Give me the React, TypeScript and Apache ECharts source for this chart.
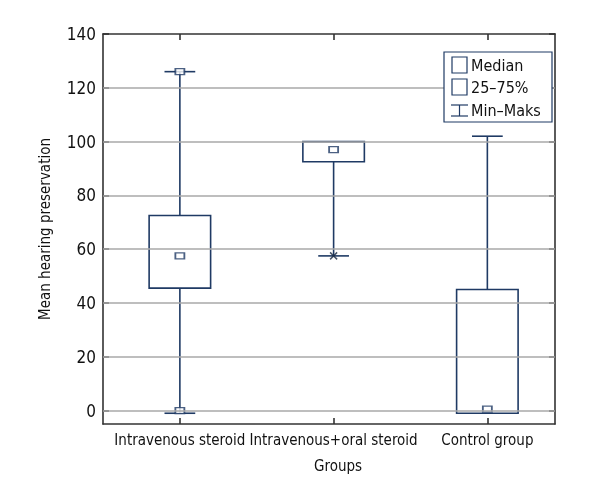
import React, { useEffect, useRef } from "react";
import * as echarts from "echarts";

const groups = ["Intravenous steroid", "Intravenous+oral steroid", "Control group"];
const groupPos = [1, 2, 3];
const mins = [-1, 57.5, -1];
const q1s = [45.5, 92.5, -1];
const q3s = [72.5, 100, 45];
const maxs = [126, 100, 102];
const medians = [57.5, 97, 0.5];
const extraSquares = [
  [1, 126],
  [1, 0],
];
const crossMarks = [[2, 57.5]];
const yTicks = [0, 20, 40, 60, 80, 100, 120, 140];
const gridValues = [0, 20, 40, 60, 80, 100, 120];
const legendItems = ["Median", "25\u201375%", "Min\u2013Maks"];

const NAVY = "#1f3a64";
const FRAME = "#333333";
const FONT = "'DejaVu Sans Condensed', 'Liberation Sans Narrow', sans-serif";

export default function App() {
  const ref = useRef<HTMLDivElement>(null);
  useEffect(() => {
    const chart = echarts.init(ref.current!, null, { renderer: "svg" });
    const boxData = groupPos.map((x, i) => [x, mins[i], q1s[i], q3s[i], maxs[i]]);
    const medianData = groupPos.map((x, i) => [x, medians[i]]);
    const boxW = 0.4;
    const capW = 0.2;

    const frameAxisCommon = {
      axisLine: { show: true, onZero: false, lineStyle: { color: FRAME, width: 1.6 } },
      axisTick: { show: true, inside: true, length: 6, lineStyle: { color: FRAME, width: 1.6 } },
      splitLine: { show: false },
    };

    chart.setOption({
      animation: false,
      grid: { left: 103, top: 34, right: 45, bottom: 76 },
      xAxis: [
        {
          type: "value",
          position: "bottom",
          min: 0.5,
          max: 3.44,
          ...frameAxisCommon,
          axisTick: { ...frameAxisCommon.axisTick, customValues: groupPos },
          axisLabel: {
            customValues: groupPos,
            formatter: (v: number) => groups[Math.round(v) - 1] ?? "",
            color: "#111",
            fontFamily: FONT,
            fontSize: 15,
            margin: 8,
            hideOverlap: false,
            showMinLabel: true,
            showMaxLabel: true,
          },
          name: "Groups",
          nameLocation: "middle",
          nameGap: 34,
          nameTextStyle: { color: "#111", fontFamily: FONT, fontSize: 15, padding: [0, 0, 0, 18] },
        },
        {
          type: "value",
          position: "top",
          min: 0.5,
          max: 3.44,
          ...frameAxisCommon,
          axisTick: { ...frameAxisCommon.axisTick, customValues: groupPos },
          axisLabel: { show: false },
        },
      ],
      yAxis: [
        {
          type: "value",
          position: "left",
          min: -5,
          max: 140,
          ...frameAxisCommon,
          axisTick: { ...frameAxisCommon.axisTick, customValues: yTicks },
          axisLabel: {
            customValues: yTicks,
            color: "#111",
            fontFamily: FONT,
            fontSize: 17,
            margin: 7,
            showMinLabel: true,
            showMaxLabel: true,
          },
          name: "Mean hearing preservation",
          nameLocation: "middle",
          nameRotate: 90,
          nameGap: 51,
          nameTextStyle: { color: "#111", fontFamily: FONT, fontSize: 15 },
        },
        {
          type: "value",
          position: "right",
          min: -5,
          max: 140,
          ...frameAxisCommon,
          axisTick: { ...frameAxisCommon.axisTick, customValues: yTicks },
          axisLabel: { show: false },
        },
      ],
      series: [
        {
          type: "line",
          data: [],
          z: 1,
          markLine: {
            silent: true,
            symbol: "none",
            label: { show: false },
            lineStyle: { color: "#a8a8a8", width: 1.5, type: "solid" },
            data: gridValues.map((v) => ({ yAxis: v })),
          },
        },
        {
          type: "custom",
          z: 3,
          data: boxData,
          renderItem: (params: any, api: any) => {
            const x = api.value(0);
            const lo = api.value(1);
            const b1 = api.value(2);
            const b3 = api.value(3);
            const hi = api.value(4);
            const pLo = api.coord([x, lo]);
            const pB1 = api.coord([x, b1]);
            const pB3 = api.coord([x, b3]);
            const pHi = api.coord([x, hi]);
            const bw = api.size([boxW, 0])[0];
            const cw = api.size([capW, 0])[0];
            const cx = pB1[0];
            const st = { stroke: NAVY, lineWidth: 1.6, fill: "none" };
            const children: any[] = [];
            if (hi > b3) {
              children.push({ type: "line", shape: { x1: cx, y1: pB3[1], x2: cx, y2: pHi[1] }, style: st });
              children.push({ type: "line", shape: { x1: cx - cw / 2, y1: pHi[1], x2: cx + cw / 2, y2: pHi[1] }, style: st });
            }
            if (lo < b1) {
              children.push({ type: "line", shape: { x1: cx, y1: pB1[1], x2: cx, y2: pLo[1] }, style: st });
              children.push({ type: "line", shape: { x1: cx - cw / 2, y1: pLo[1], x2: cx + cw / 2, y2: pLo[1] }, style: st });
            }
            children.push({
              type: "rect",
              shape: { x: cx - bw / 2, y: pB3[1], width: bw, height: pB1[1] - pB3[1] },
              style: { stroke: NAVY, lineWidth: 1.6, fill: "#ffffff" },
            });
            return { type: "group", children };
          },
        },
        {
          type: "scatter",
          z: 4,
          data: [...medianData, ...extraSquares],
          symbol: "rect",
          symbolSize: [9, 6],
          itemStyle: { color: "#ffffff", borderColor: NAVY, borderWidth: 1.5 },
        },
        {
          type: "scatter",
          z: 4,
          data: crossMarks,
          symbol: "path://M0,0L10,10M10,0L0,10",
          symbolSize: 7,
          itemStyle: { color: "none", borderColor: "#1a2a44", borderWidth: 1.5 },
        },
      ],
      graphic: [
        {
          type: "rect",
          shape: { x: 444, y: 52, width: 108, height: 70 },
          style: { fill: "#ffffff", stroke: NAVY, lineWidth: 1.2 },
          z: 10,
        },
        {
          type: "rect",
          shape: { x: 452, y: 57, width: 15, height: 16 },
          style: { fill: "none", stroke: NAVY, lineWidth: 1.2 },
          z: 11,
        },
        {
          type: "rect",
          shape: { x: 452, y: 79, width: 15, height: 16 },
          style: { fill: "none", stroke: NAVY, lineWidth: 1.2 },
          z: 11,
        },
        { type: "line", shape: { x1: 451, y1: 105, x2: 468, y2: 105 }, style: { stroke: NAVY, lineWidth: 1.2 }, z: 11 },
        { type: "line", shape: { x1: 459.5, y1: 105, x2: 459.5, y2: 116 }, style: { stroke: NAVY, lineWidth: 1.2 }, z: 11 },
        { type: "line", shape: { x1: 451, y1: 116, x2: 468, y2: 116 }, style: { stroke: NAVY, lineWidth: 1.2 }, z: 11 },
        ...legendItems.map((t, i) => ({
          type: "text",
          x: 471,
          y: [65, 87, 110][i],
          z: 11,
          style: { text: t, fill: "#111", font: `16px ${FONT}`, verticalAlign: "middle", align: "left" },
        })),
      ],
    });
    return () => chart.dispose();
  }, []);
  return <div ref={ref} style={{ position: "fixed", left: 0, top: 0, width: 600, height: 500 }} />;
}
